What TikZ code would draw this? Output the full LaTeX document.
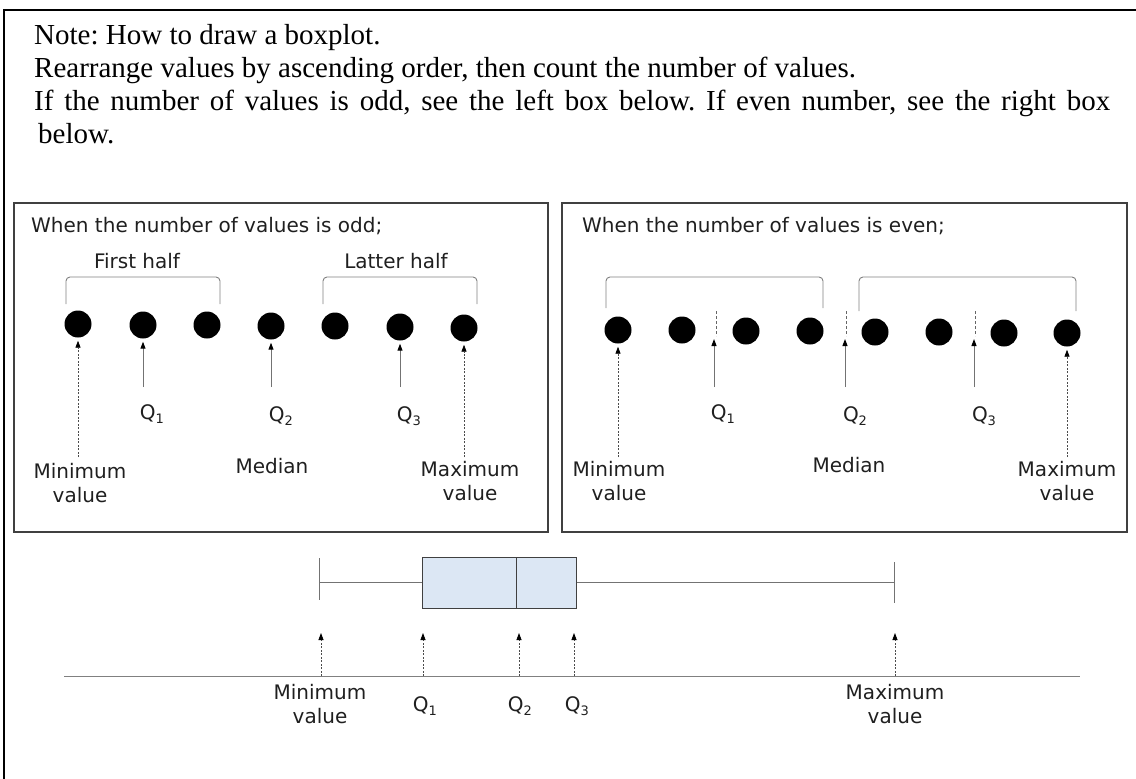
\documentclass[tikz,border=0pt]{standalone}
\usepackage{fontspec}
\setmainfont{Liberation Serif}
\newfontfamily\labelfont{DejaVu Sans}
\usetikzlibrary{arrows.meta}
\definecolor{boxfill}{RGB}{220,231,244}
\newcommand\qsub[1]{Q\raisebox{-0.35ex}{\fontsize{13}{13}\selectfont #1}}
\frenchspacing
\begin{document}
\begin{tikzpicture}[x=1pt,y=-1pt,
  note/.style={anchor=base west, inner sep=0pt, font=\fontsize{29}{33}\selectfont},
  lbl/.style={inner sep=0pt, align=center, text=black!88,
    font=\labelfont\fontsize{20}{24}\selectfont},
  panel/.style={draw=black!75, line width=1.2pt},
  dot/.style={circle, fill=black, minimum size=27pt, inner sep=0pt},
  brk/.style={draw=black!50, line width=0.9pt, rounded corners=4pt},
  pointer/.style={draw=black!55, line width=1pt, shorten >=3pt,
    -{Triangle[length=7pt,width=5pt,black]}},
  dpointer/.style={draw=black!70, line width=0.8pt, dash pattern=on 2pt off 1.5pt,
    shorten >=3pt, -{Triangle[length=7pt,width=5pt,black]}},
  sep/.style={draw=black!60, line width=0.8pt, dash pattern=on 3pt off 2pt},
  whisk/.style={draw=black!55, line width=1pt},
]
\useasboundingbox (0,0) rectangle (1136,779);

% outer frame (open towards the right and bottom)
\draw[line width=2.5pt] (4,790) -- (4,10) -- (1145,10);

% heading text
\node[note] (t1) at (34,44) {Note: How to draw a boxplot.};
\node[note] (t2) at (34,77) {Rearrange values by ascending order, then count the number of values.};
\node[note] (t3) at (34,110) {\makebox[1076pt][s]{If the number of values is odd, see the left box below. If even number, see the right box}};
\node[note] (t4) at (38,143) {below.};

% ---------- odd case ----------
\draw[panel] (14,203) rectangle (548,532);
\node[lbl, anchor=base west] (oddt) at (31,232) {When the number of values is odd;};
\node[lbl] (fh) at (137,261) {First half};
\node[lbl] (lh) at (396,261) {Latter half};
\draw[brk] (66,304) -- (66,277) -- (220,277) -- (220,304);
\draw[brk] (323,304) -- (323,277) -- (477,277) -- (477,304);

\foreach \i/\x/\y in {1/78/324,2/143/325,3/207/325,4/271/326,5/335/326,6/400/327,7/464/328}
  \node[dot] (d\i) at (\x,\y) {};

\coordinate (om) at (78,457);
\coordinate (oq1) at (143,387);
\coordinate (oq2) at (271,387);
\coordinate (oq3) at (400,387);
\coordinate (ox) at (464,457);
\draw[dpointer] (om) -- (d1);
\draw[pointer] (oq1) -- (d2);
\draw[pointer] (oq2) -- (d4);
\draw[pointer] (oq3) -- (d6);
\draw[dpointer] (ox) -- (d7);

\node[lbl] (oq1l) at (152,414) {\qsub{1}};
\node[lbl] (oq2l) at (281,416) {\qsub{2}};
\node[lbl] (oq3l) at (409,416) {\qsub{3}};
\node[lbl] (omed) at (272,466) {Median};
\node[lbl] (omin) at (80,483) {Minimum\\value};
\node[lbl] (omax) at (470,481) {Maximum\\value};

% ---------- even case ----------
\draw[panel] (562,203) rectangle (1127,532);
\node[lbl, anchor=base west] (event) at (582,232) {When the number of values is even;};
\draw[brk] (606,308) -- (606,277) -- (823,277) -- (823,308);
\draw[brk] (859,311) -- (859,277) -- (1076,277) -- (1076,311);

\foreach \i/\x/\y in {1/618/330,2/682/330,3/746/331,4/810/331,5/875/332,6/939/332,7/1004/333,8/1067/333}
  \node[dot] (e\i) at (\x,\y) {};

\foreach \i/\x in {1/716,2/846,3/975} {
  \coordinate (s\i t) at (\x,311);
  \coordinate (s\i b) at (\x,336);
  \draw[sep] (s\i t) -- (s\i b);
}
\coordinate (em) at (618,457);
\coordinate (eq1) at (714,387);
\coordinate (eq2) at (845,387);
\coordinate (eq3) at (974,387);
\coordinate (ex) at (1067,457);
\draw[dpointer] (em) -- (e1);
\draw[pointer] (eq1) -- (eq1 |- s1b);
\draw[pointer] (eq2) -- (eq2 |- s2b);
\draw[pointer] (eq3) -- (eq3 |- s3b);
\draw[dpointer] (ex) -- (e8);

\node[lbl] (eq1l) at (723,414) {\qsub{1}};
\node[lbl] (eq2l) at (855,416) {\qsub{2}};
\node[lbl] (eq3l) at (984,416) {\qsub{3}};
\node[lbl] (emed) at (849,465) {Median};
\node[lbl] (emin) at (619,481) {Minimum\\value};
\node[lbl] (emax) at (1067,481) {Maximum\\value};

% ---------- boxplot ----------
\node[draw=black!75, fill=boxfill, line width=1pt, minimum width=154pt,
  minimum height=51pt, inner sep=0pt] (bx) at (499,582.5) {};
\draw[black!75, line width=1pt] (516,557) -- (516,608);
\coordinate (c1t) at (319,558);
\coordinate (c1b) at (319,600);
\coordinate (c2t) at (894,562);
\coordinate (c2b) at (894,603);
\draw[whisk] (c1t) -- (c1b);
\draw[whisk] (c2t) -- (c2b);
\draw[whisk] (c1t |- bx.west) -- (bx.west);
\draw[whisk] (bx.east) -- (c2t |- bx.east);

% axis and pointers
\coordinate (axl) at (64,676);
\coordinate (axr) at (1080,676);
\draw[draw=black!50, line width=1pt] (axl) -- (axr);
\foreach \n/\x in {pm/321,p1/423,p2/519,p3/574,px/895} {
  \coordinate (\n a) at (\x,676);
  \coordinate (\n t) at (\x,633);
  \draw[dpointer, shorten >=0pt] (\n a) -- (\n t);
}
\node[lbl] (bmin) at (320,704) {Minimum\\value};
\node[lbl] (bq1) at (425,706) {\qsub{1}};
\node[lbl] (bq2) at (520,706) {\qsub{2}};
\node[lbl] (bq3) at (577,706) {\qsub{3}};
\node[lbl] (bmax) at (895,704) {Maximum\\value};
\end{tikzpicture}
\end{document}
